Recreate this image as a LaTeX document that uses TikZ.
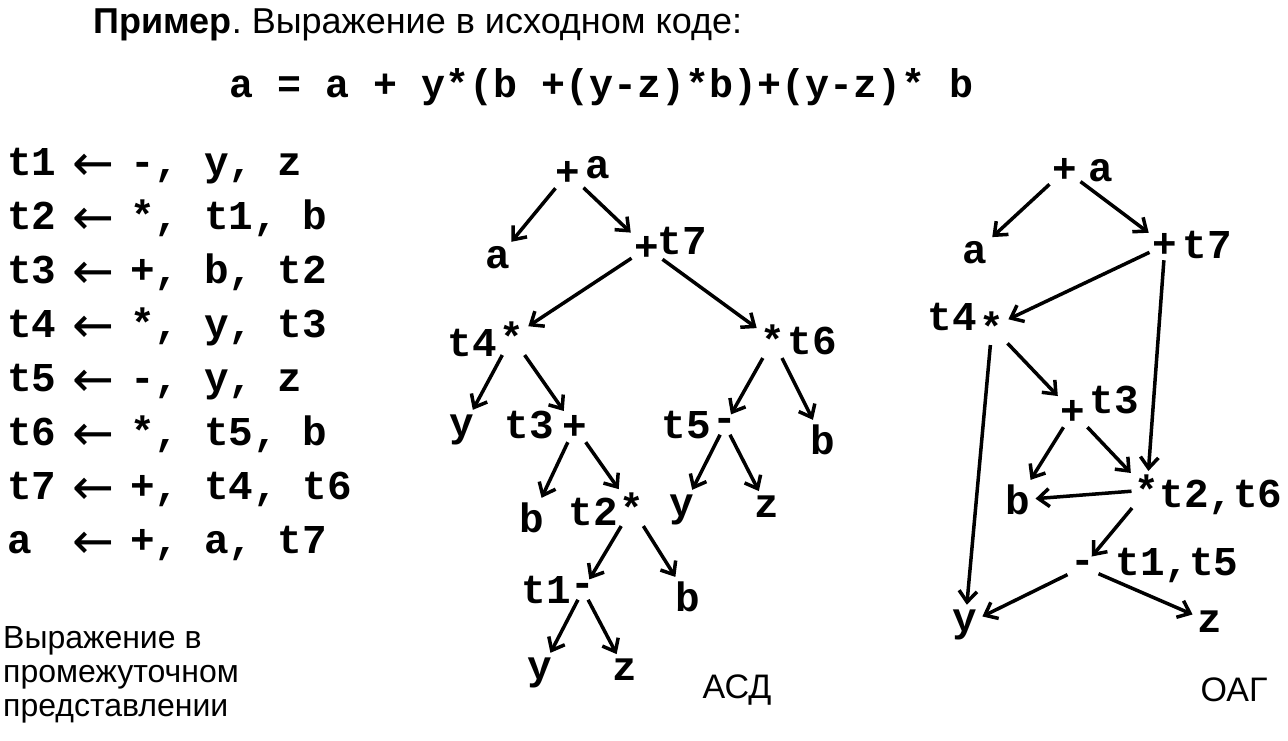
\documentclass[tikz,border=0pt]{standalone}
\usepackage{fontspec}
\setmainfont{Liberation Sans}
\setmonofont{Liberation Mono}
\newfontfamily\arrowfont{DejaVu Sans}
\usetikzlibrary{arrows.meta}
\usetikzlibrary{calc,positioning}

\newcommand\OPNODE[5] {
    % operator sign with the name of its temporary
    \node[opsign] (#1) at #2 {#3};
    \node[tmpname] (#1_name) at #4 {#5};
}
% assignment arrow, one column wide
\newcommand\LARR{\makebox[0.6em]{\arrowfont\mdseries\fontsize{50}{50}\selectfont\raisebox{-5pt}{←}}}

\begin{document}
\begin{tikzpicture}[x=1pt, y=-1pt, every node/.style={inner sep=0pt}
    , mono/.style={font=\fontsize{41}{41}\selectfont\ttfamily\bfseries}
    , opsign/.style={mono, inner sep=3pt}
    , tmpname/.style={mono}
    , leaf/.style={mono, inner sep=4pt}
    , caption/.style={font=\fontsize{34}{34}\selectfont}
    , note/.style={anchor=base west, font=\fontsize{32}{32}\selectfont}
    , arc/.style={line width=3.5pt, -{Straight Barb[length=11pt,width=18pt]}, shorten >=1pt}
    ]
    \useasboundingbox (0,0) rectangle (1288,740);

    % Header and source expression.
    \node[anchor=base west, font=\fontsize{36}{36}\selectfont] (title) at (93,33)
        {\frenchspacing\textbf{Пример}. Выражение в исходном коде:};
    \node[anchor=base west, font=\fontsize{40}{40}\selectfont\ttfamily\bfseries] (expr) at (229,97)
        {a = a + y*(b +(y-z)*b)+(y-z)* b};

    % Intermediate code, one triple per line.
    \foreach \i/\code in {1/{t1 \LARR{} -, y, z}, 2/{t2 \LARR{} *, t1, b}, 3/{t3 \LARR{} +, b, t2},
        4/{t4 \LARR{} *, y, t3}, 5/{t5 \LARR{} -, y, z}, 6/{t6 \LARR{} *, t5, b},
        7/{t7 \LARR{} +, t4, t6}, 8/{a~~\LARR{} +, a, t7}}
    {
        \pgfmathsetmacro\ybase{175+54*(\i-1)}
        \node[mono, anchor=base west] (line\i) at (7,\ybase) {\code};
    }
    \node[note] (note1) at (3,648) {Выражение в};
    \node[note] (note2) at (3,682) {промежуточном};
    \node[note] (note3) at (3,716) {представлении};

    % Abstract syntax tree.
    \OPNODE{asd_root}{(568,173)}{+}{(598,168)}{a}
    \node[leaf] (asd_a) at (498,258) {a};
    \OPNODE{asd_t7}{(647,248)}{+}{(682,241)}{t7}
    \OPNODE{asd_t4}{(512,337)}{*}{(472,343)}{t4}
    \OPNODE{asd_t6}{(773,340)}{*}{(812,341)}{t6}
    \node[leaf] (asd_y1) at (462,430) {y};
    \OPNODE{asd_t3}{(575,427)}{+}{(529,425)}{t3}
    \OPNODE{asd_t5}{(725,425)}{-}{(686,425)}{t5}
    \node[leaf] (asd_b1) at (823,440) {b};
    \node[leaf] (asd_b2) at (532,518) {b};
    \OPNODE{asd_t2}{(632,508)}{*}{(593,512)}{t2}
    \node[leaf] (asd_y2) at (682,510) {y};
    \node[leaf] (asd_z2) at (767,507) {z};
    \OPNODE{asd_t1}{(583,590)}{-}{(546,590)}{t1}
    \node[leaf] (asd_b3) at (688,597) {b};
    \node[leaf] (asd_y3) at (540,673) {y};
    \node[leaf] (asd_z3) at (625,670) {z};
    \foreach \from/\to in {asd_root/asd_a, asd_root/asd_t7, asd_t7/asd_t4, asd_t7/asd_t6,
        asd_t4/asd_y1, asd_t4/asd_t3, asd_t3/asd_b2, asd_t3/asd_t2, asd_t2/asd_t1,
        asd_t2/asd_b3, asd_t1/asd_y3, asd_t1/asd_z3, asd_t6/asd_t5, asd_t6/asd_b1,
        asd_t5/asd_y2, asd_t5/asd_z2}
        \draw[arc] (\from) -- (\to);
    \node[caption] (asd_caption) at (737,690) {АСД};

    % Directed acyclic graph.
    \OPNODE{oag_root}{(1065,170)}{+}{(1101,171)}{a}
    \node[leaf] (oag_a) at (975,253) {a};
    \OPNODE{oag_t7}{(1165,245)}{+}{(1207,245)}{t7}
    \OPNODE{oag_t4}{(992,327)}{*}{(952,317)}{t4}
    \OPNODE{oag_t3}{(1073,412)}{+}{(1114,400)}{t3}
    \node[leaf] (oag_b) at (1018,500) {b};
    \OPNODE{oag_t2}{(1147,490)}{*}{(1221,497)}{t2,t6}
    \OPNODE{oag_t1}{(1083,567)}{-}{(1177,565)}{t1,t5}
    \node[leaf] (oag_y) at (965,625) {y};
    \node[leaf] (oag_z) at (1210,622) {z};
    \foreach \from/\to in {oag_root/oag_a, oag_root/oag_t7, oag_t7/oag_t4, oag_t7/oag_t2,
        oag_t4/oag_t3, oag_t4/oag_y, oag_t3/oag_b, oag_t3/oag_t2, oag_t2/oag_b,
        oag_t2/oag_t1, oag_t1/oag_y, oag_t1/oag_z}
        \draw[arc] (\from) -- (\to);
    \node[caption] (oag_caption) at (1234,690) {ОАГ};
\end{tikzpicture}
\end{document}
